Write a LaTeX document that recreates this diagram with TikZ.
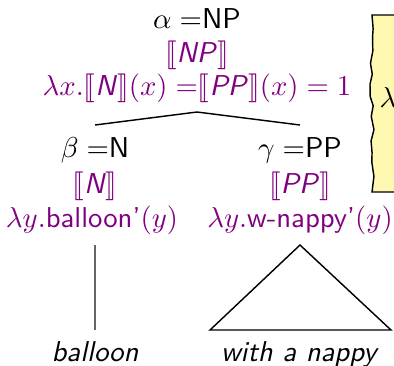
\documentclass[tikz,border=0pt]{standalone}
\usepackage{stmaryrd}
\usetikzlibrary{decorations.pathmorphing}
\definecolor{sempurple}{RGB}{128,0,128}
\definecolor{noteyellow}{RGB}{255,248,176}
\renewcommand{\familydefault}{\sfdefault}
\tikzset{
  lbl/.style={anchor=base, inner sep=0pt, font=\sffamily},
  sem/.style={lbl, text=sempurple},
  branch/.style={line width=0.5pt, black},
}
\begin{document}
\begin{tikzpicture}[x=0.348pt,y=-0.348pt]
\useasboundingbox (0,0) rectangle (394,365);
% note box (cut off at the right)
\fill[noteyellow, draw=black, line width=0.5pt]
  (420,15) -- (372,15)
  decorate[decoration={random steps, segment length=4pt, amplitude=0.8pt}] { -- (372,192) }
  -- (420,192);
\node[lbl] (note) at (388,107) {$\lambda$};
% root
\node[lbl] (alpha) at (197,28) {$\alpha =$NP};
\node[sem] (npsem) at (197,62) {$\llbracket$\textit{NP}$\rrbracket$};
\node[sem] (npval) at (197,95) {$\lambda x.\llbracket$\textit{N}$\rrbracket(x) =$$\llbracket$\textit{PP}$\rrbracket(x) = 1$};
\coordinate (apex) at (197,112);
\coordinate (lend) at (95,125);
\coordinate (rend) at (300,125);
\draw[branch] (lend) -- (apex) -- (rend);
% left daughter
\node[lbl] (beta) at (95,157) {$\beta =$N};
\node[sem] (nsem) at (95,193) {$\llbracket$\textit{N}$\rrbracket$};
\node[sem] (nval) at (92,227) {$\lambda y.$balloon'$(y)$};
\coordinate (vtop) at (95,245);
\coordinate (vbot) at (95,330);
\draw[branch, gray!80!black] (vtop) -- (vbot);
\node[lbl] (balloon) at (95,361) {\textit{balloon}};
% right daughter
\node[lbl] (gamma) at (300,157) {$\gamma =$PP};
\node[sem] (ppsem) at (300,193) {$\llbracket$\textit{PP}$\rrbracket$};
\node[sem] (ppval) at (300,227) {$\lambda y.$w-nappy'$(y)$};
\coordinate (tapex) at (300,245);
\coordinate (tl) at (210,330);
\coordinate (tr) at (391,330);
\draw[branch] (tapex) -- (tl) -- (tr) -- cycle;
\node[lbl] (nappy) at (300,361) {\textit{with a nappy}};
\end{tikzpicture}
\end{document}
